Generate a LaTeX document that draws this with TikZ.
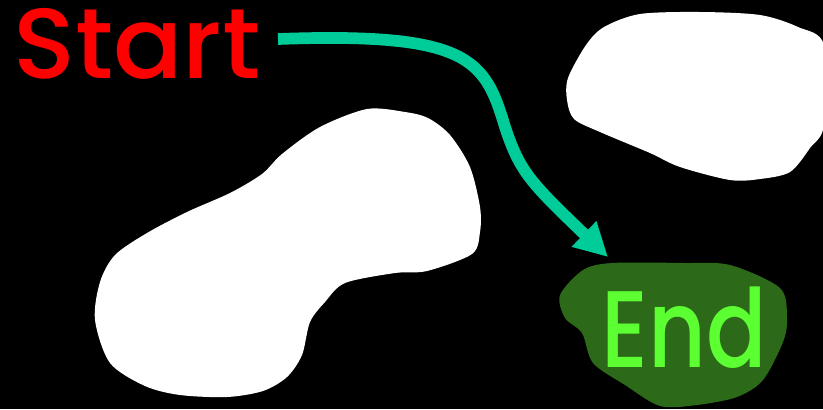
\documentclass[tikz,border=0pt]{standalone}
\usepackage{fontspec}
\setmainfont{Poppins}[UprightFont=* Medium]
\usepackage{tikz}
\usetikzlibrary{arrows.meta}
\definecolor{qRed}{RGB}{255,0,0}
\definecolor{qTeal}{RGB}{0,204,153}
\definecolor{qMoss}{RGB}{44,105,24}
\definecolor{qLime}{RGB}{92,255,50}

\begin{document}
\begin{tikzpicture}[x=0.03cm, y=-0.03cm,
  word/.style={inner sep=0pt, anchor=base west}]
  % frame — 823 x 409 px, y grows downwards
  \fill[black] (0,0) rectangle (823,409);
  \clip (0,0) rectangle (823,409);

  % white blob, top right
  \fill[white] plot[smooth cycle, tension=0.5] coordinates {
    (604,27)(640,14)(700,12)(760,15)(798,27)(824,45)(824,125)(810,148)(790,172)
    (760,179)(730,180)(680,167)(650,153)(600,132)(574,119)(567,100)(568,78)(586,45)
  };

  % white blob, left
  \fill[white] plot[smooth cycle, tension=0.5] coordinates {
    (367,109)(405,112)(428,118)(450,135)(470,167)(480,207)(480,232)(472,254)
    (427,271)(395,273)(345,283)(325,302)(310,322)(302,355)(287,377)(263,391)
    (227,397)(180,395)(145,386)(110,363)(95,320)(100,282)(115,255)(147,233)
    (187,212)(230,193)(262,174)(282,154)(320,127)
  };

  % green blob round the end word
  \fill[qMoss] plot[smooth cycle, tension=0.5] coordinates {
    (583,270)(612,263)(683,263)(730,265)(780,288)(787,318)(783,342)(763,380)
    (737,397)(697,405)(660,406)(625,385)(593,363)(582,333)(565,318)(560,295)
  };

  % labels
  \node[word, text=qRed, xscale=1.03, font=\fontsize{85}{90}\selectfont]
    (start) at (13,78) {Start};
  \node[word, text=qLime, xscale=0.82, font=\fontsize{93}{98}\selectfont]
    (end) at (601,367) {End};

  % connector
  \coordinate (tail) at (278,39);
  \coordinate (tip)  at (608,257);
  \draw[qTeal, line width=10pt, -{Triangle[length=1cm, width=1cm]}]
    (tail) .. controls (470,32) and (485,60) .. (505,127)
           .. controls (520,172) and (530,182) .. (tip);
\end{tikzpicture}
\end{document}
